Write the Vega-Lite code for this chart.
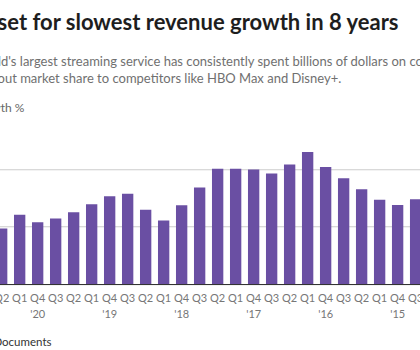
{
  "$schema": "https://vega.github.io/schema/vega-lite/v6.json",
  "autosize": {"type": "none"},
  "padding": {"left": 0, "top": 140.25, "right": 0, "bottom": 65.75},
  "width": 420,
  "height": 143.75,
  "background": "white",
  "title": {
    "text": "Netflix set for slowest revenue growth in 8 years",
    "subtitle": ["The world's largest streaming service has consistently spent billions of dollars on content,", "but lost out market share to  competitors like HBO Max and Disney+."],
    "anchor": "start",
    "frame": "group",
    "font": "Lato",
    "fontSize": 22,
    "fontWeight": "bold",
    "color": "#1e1e1e",
    "subtitleFont": "Lato",
    "subtitleFontSize": 13,
    "subtitleColor": "#707070",
    "subtitleLineHeight": 17,
    "subtitlePadding": 20.5,
    "offset": 14.5
  },
  "data": {
    "values": [
      {"quarter": "Q2 '21", "growth": 19.3},
      {"quarter": "Q1 '21", "growth": 24.1},
      {"quarter": "Q4 '20", "growth": 21.5},
      {"quarter": "Q3 '20", "growth": 22.8},
      {"quarter": "Q2 '20", "growth": 25.0},
      {"quarter": "Q1 '20", "growth": 27.7},
      {"quarter": "Q4 '19", "growth": 30.5},
      {"quarter": "Q3 '19", "growth": 31.4},
      {"quarter": "Q2 '19", "growth": 25.8},
      {"quarter": "Q1 '19", "growth": 22.1},
      {"quarter": "Q4 '18", "growth": 27.4},
      {"quarter": "Q3 '18", "growth": 33.6},
      {"quarter": "Q2 '18", "growth": 40.1},
      {"quarter": "Q1 '18", "growth": 40.1},
      {"quarter": "Q4 '17", "growth": 39.8},
      {"quarter": "Q3 '17", "growth": 38.4},
      {"quarter": "Q2 '17", "growth": 41.6},
      {"quarter": "Q1 '17", "growth": 45.9},
      {"quarter": "Q4 '16", "growth": 40.7},
      {"quarter": "Q3 '16", "growth": 36.8},
      {"quarter": "Q2 '16", "growth": 33.0},
      {"quarter": "Q1 '16", "growth": 29.3},
      {"quarter": "Q4 '15", "growth": 27.5},
      {"quarter": "Q3 '15", "growth": 29.5}
    ]
  },
  "mark": {"type": "bar", "color": "#6a4fa3", "clip": true},
  "encoding": {
    "x": {
      "field": "quarter",
      "type": "nominal",
      "sort": null,
      "scale": {"range": [-13, 430.3], "paddingInner": 0.37, "paddingOuter": 0.5},
      "axis": {
        "labelAngle": 0,
        "labelFont": "Lato",
        "labelFontSize": 11,
        "labelColor": "#777777",
        "labelPadding": 8,
        "labelLineHeight": 16,
        "labelBaseline": "top",
        "labelOverlap": false,
        "labelFlush": false,
        "labelBound": false,
        "labelExpr": "indexof(datum.value, 'Q4') == 0 ? split(datum.value, ' ') : split(datum.value, ' ')[0]",
        "ticks": false,
        "domainColor": "#333333",
        "domainWidth": 1,
        "title": "Source: Company Documents",
        "titleFont": "Lato",
        "titleFontSize": 11.5,
        "titleFontWeight": "normal",
        "titleColor": "#333333",
        "titleAlign": "right",
        "titleAnchor": null,
        "titleX": 51,
        "titleY": 61,
        "titleBaseline": "alphabetic"
      }
    },
    "y": {
      "field": "growth",
      "type": "quantitative",
      "scale": {"domain": [0, 50]},
      "axis": {
        "values": [0, 20, 40],
        "labels": false,
        "ticks": false,
        "domain": false,
        "gridColor": "#cccccc",
        "gridWidth": 1,
        "title": "Revenue growth %",
        "titleFont": "Lato",
        "titleFontSize": 12,
        "titleFontWeight": "normal",
        "titleColor": "#666666",
        "titleAngle": 0,
        "titleAlign": "right",
        "titleAnchor": null,
        "titleX": 24,
        "titleY": -29,
        "titleBaseline": "alphabetic"
      }
    }
  },
  "config": {
    "view": {"stroke": null},
    "style": {
      "group-title": {"dx": -74},
      "group-subtitle": {"dx": -49}
    }
  }
}
